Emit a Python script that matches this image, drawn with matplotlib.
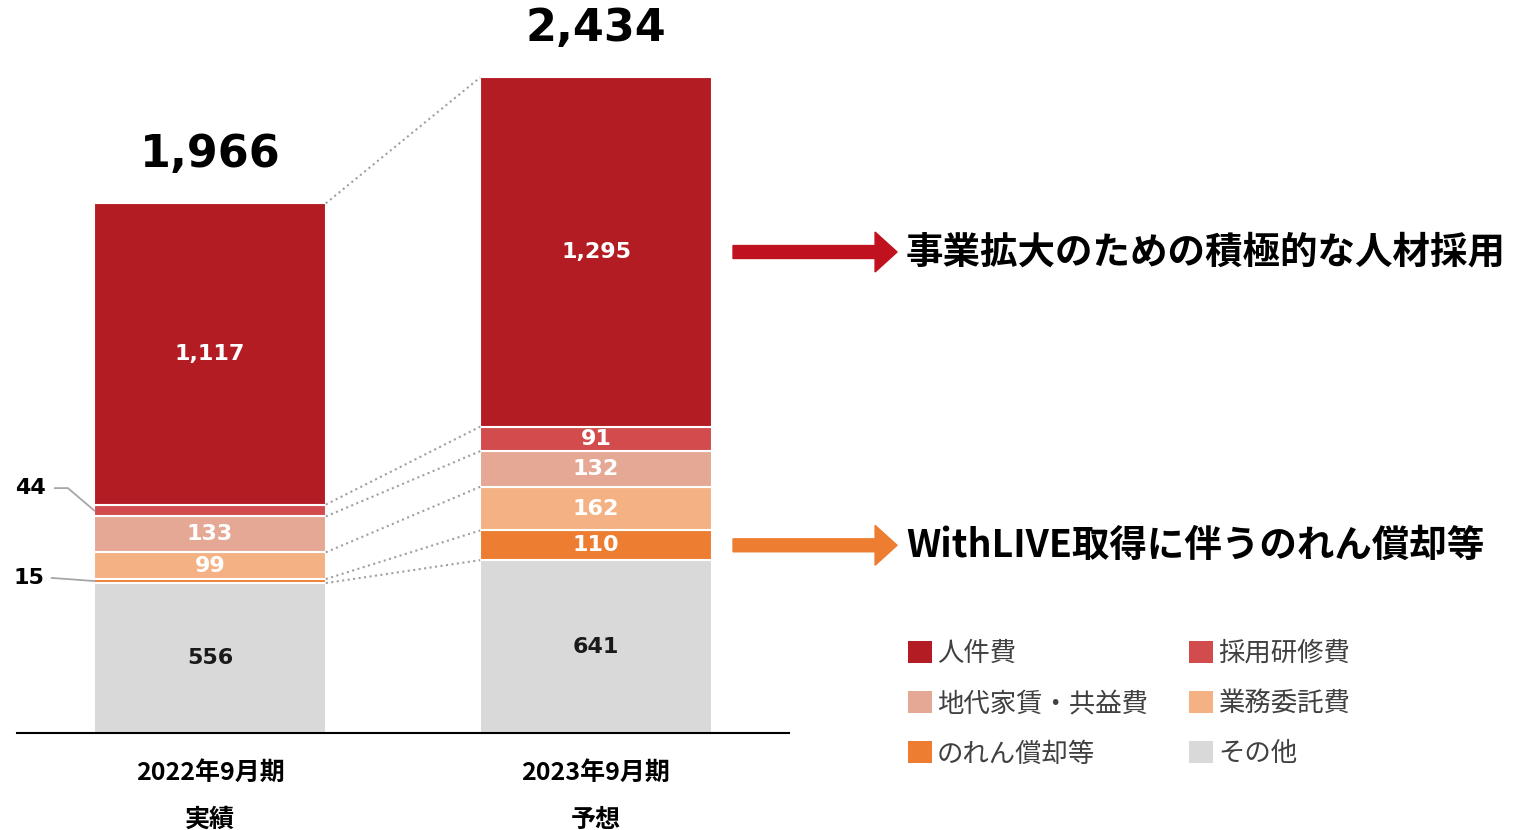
"""
販管費の内訳（2022年9月期実績 / 2023年9月期予想）の積み上げ棒グラフ
"""

import numpy as np
import matplotlib.pyplot as plt
from matplotlib.patches import Patch, FancyArrow

# 日本語フォント
plt.rcParams['font.family'] = ['Noto Sans CJK JP', 'DejaVu Sans']

# データ（単位：百万円）
periods = ['2022年9月期\n実績', '2023年9月期\n予想']
items = ['その他', 'のれん償却等', '業務委託費', '地代家賃・共益費', '採用研修費', '人件費']
other = [556, 641]
goodwill = [15, 110]
outsourcing = [99, 162]
rent = [133, 132]
training = [44, 91]
personnel = [1117, 1295]
totals = [1966, 2434]

colors = ['#D9D9D9', '#ED7D31', '#F4B183', '#E5A895', '#D24C4E', '#B41C24']
label_colors = ['#1A1A1A', 'white', 'white', 'white', 'white', 'white']

series = [other, goodwill, outsourcing, rent, training, personnel]

fig = plt.figure(figsize=(15.21, 8.30), dpi=100)
ax = fig.add_axes([17 / 1521, 97 / 830, 772 / 1521, 733 / 830])

x = np.arange(len(periods))
width = 0.6
bottom = np.zeros(len(periods))
levels = []

for vals, c, lc in zip(series, colors, label_colors):
    vals = np.array(vals, dtype=float)
    ax.bar(x, vals, width, bottom=bottom, color=c, edgecolor='white', linewidth=1.5)
    for xi, v, b in zip(x, vals, bottom):
        if v >= 60:
            ax.text(xi, b + v / 2, f'{int(v):,}', ha='center', va='center',
                    fontsize=16, fontweight='bold', color=lc, family='DejaVu Sans')
    bottom = bottom + vals
    levels.append(bottom.copy())

# 棒の間の点線
for lv in levels:
    ax.plot([x[0] + width / 2, x[1] - width / 2], [lv[0], lv[1]],
            linestyle=':', color='#A0A0A0', linewidth=1.5)

# 合計
for xi, top, t in zip(x, bottom, totals):
    ax.annotate(f'{t:,}', xy=(xi, top), xytext=(0, 35), textcoords='offset points',
                ha='center', va='center', fontsize=32, fontweight='bold',
                color='black', family='DejaVu Sans')

# 小さい区分の引き出し線（2022年）
mid_training = other[0] + goodwill[0] + outsourcing[0] + rent[0] + training[0] / 2
mid_goodwill = other[0] + goodwill[0] / 2
left_edge = x[0] - width / 2
ax.text(-0.466, 908, f'{training[0]}', ha='center', va='center', fontsize=16,
        fontweight='bold', family='DejaVu Sans', clip_on=False)
ax.plot([-0.402, -0.368, left_edge], [908, 908, mid_training],
        color='#A6A6A6', linewidth=1.3, clip_on=False)
ax.text(-0.47, 575, f'{goodwill[0]}', ha='center', va='center', fontsize=16,
        fontweight='bold', family='DejaVu Sans', clip_on=False)
ax.plot([-0.41, left_edge], [575, mid_goodwill],
        color='#A6A6A6', linewidth=1.3, clip_on=False)

# 矢印と説明
mid_personnel = levels[4][1] + personnel[1] / 2
mid_goodwill23 = other[1] + goodwill[1] / 2
for y, c, txt in [(mid_personnel, '#C0111F', '事業拡大のための積極的な人材採用'),
                  (mid_goodwill23, '#ED7D31', 'WithLIVE取得に伴うのれん償却等')]:
    ax.add_patch(FancyArrow(1.355, y, 0.425, 0, width=48, head_width=148,
                            head_length=0.057, length_includes_head=True,
                            color=c, clip_on=False))
    ax.text(1.803, y, txt, ha='left', va='center', fontsize=27,
            fontweight='bold', color='black', clip_on=False)

ax.set_xlim(-0.5, 1.5)
ax.set_ylim(0, 2718)
ax.set_yticks([])
ax.set_xticks(x)
ax.set_xticklabels(periods, fontsize=18, fontweight='bold', linespacing=2.2)
ax.tick_params(axis='x', length=0, pad=20)
for s in ['left', 'right', 'top']:
    ax.spines[s].set_visible(False)
ax.spines['bottom'].set_linewidth(1.5)
ax.spines['bottom'].set_color('black')
ax.patch.set_alpha(0)

# 凡例（列ごとに並べる）
order = [5, 3, 1, 4, 2, 0]
handles = [Patch(facecolor=colors[i], edgecolor='none') for i in order]
labels = [items[i] for i in order]
fig.legend(handles, labels, ncol=2, loc='upper left', bbox_to_anchor=(908 / 1521, 1 - 640 / 830),
           frameon=False, fontsize=19, handlelength=0.9, handleheight=0.9,
           handletextpad=0.2, columnspacing=1.55, labelspacing=0.88,
           borderpad=0, borderaxespad=0, labelcolor='#404040')

plt.savefig('out.png', dpi=100)
plt.close()
